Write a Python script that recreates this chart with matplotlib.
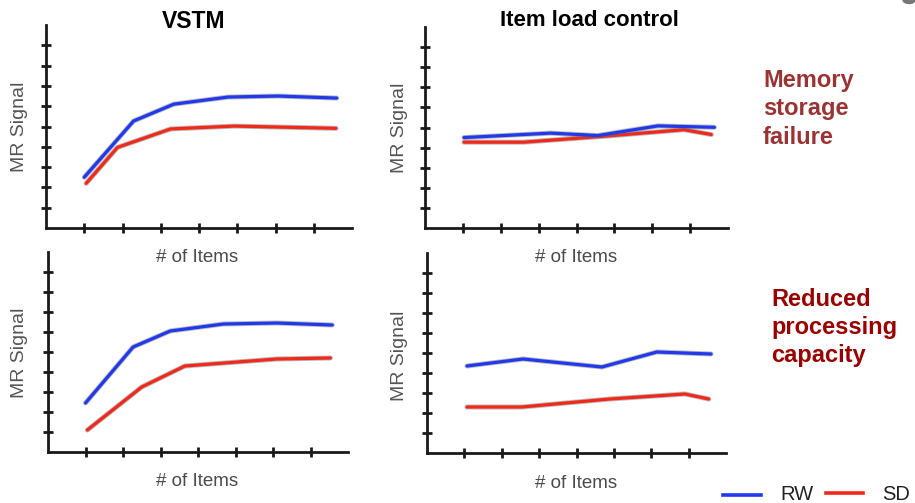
import matplotlib
matplotlib.use("Agg")
import matplotlib.pyplot as plt
import matplotlib.patheffects as pe
from matplotlib.lines import Line2D
from matplotlib.patches import Ellipse

plt.rcParams['font.family'] = ['Liberation Sans', 'DejaVu Sans']

# ---- data (arbitrary units) ----
vstm_mem_rw_x = [1.0, 2.29, 3.34, 4.76, 6.07, 7.6]
vstm_mem_rw_y = [2.5, 5.27, 6.1, 6.45, 6.5, 6.4]
vstm_mem_sd_x = [1.05, 1.87, 3.26, 4.92, 7.58]
vstm_mem_sd_y = [2.2, 3.97, 4.88, 5.02, 4.91]

ctrl_mem_rw_x = [1.03, 3.32, 4.56, 6.15, 7.64]
ctrl_mem_rw_y = [4.5, 4.72, 4.6, 5.08, 5.01]
ctrl_mem_sd_x = [1.03, 2.6, 4.64, 6.84, 7.56]
ctrl_mem_sd_y = [4.27, 4.27, 4.55, 4.89, 4.65]

vstm_cap_rw_x = [1.0, 2.27, 3.26, 4.68, 6.1, 7.58]
vstm_cap_rw_y = [2.45, 5.25, 6.05, 6.4, 6.45, 6.35]
vstm_cap_sd_x = [1.05, 2.5, 3.65, 6.1, 7.53]
vstm_cap_sd_y = [1.1, 3.25, 4.3, 4.65, 4.7]

ctrl_cap_rw_x = [1.07, 2.57, 4.68, 6.15, 7.6]
ctrl_cap_rw_y = [4.35, 4.7, 4.3, 5.05, 4.95]
ctrl_cap_sd_x = [1.07, 2.54, 4.89, 6.9, 7.54]
ctrl_cap_sd_y = [2.3, 2.3, 2.7, 2.95, 2.7]

x_ticks = [1, 2, 3, 4, 5, 6, 7]
y_ticks = [1, 2, 3, 4, 5, 6, 7, 8, 9]

titles = ["VSTM", "Item load control"]
x_label = "# of Items"
y_label = "MR Signal"
row_labels = ["Memory\nstorage\nfailure", "Reduced\nprocessing\ncapacity"]
series_names = ["RW", "SD"]

# ---- style ----
W, H = 915, 503
BLUE = '#2038ee'
RED = '#f2281a'

fig = plt.figure(figsize=(W / 100, H / 100), dpi=100)
fig.patch.set_facecolor('white')


def px_axes(left, right, bottom, top):
    return fig.add_axes([left / W, 1 - bottom / H, (right - left) / W, (bottom - top) / H])


def fx(x):
    return x / W


def fy(y):
    return 1 - y / H


def style(ax):
    ax.set_xlim(0, 8)
    ax.set_ylim(0, 10)
    for s in ['top', 'right']:
        ax.spines[s].set_visible(False)
    for s in ['left', 'bottom']:
        ax.spines[s].set_linewidth(2.0)
        ax.spines[s].set_color('#1a1a1a')
    ax.set_xticks(x_ticks)
    ax.set_yticks(y_ticks)
    ax.tick_params(direction='inout', length=7, width=2.0, color='#1a1a1a',
                   labelbottom=False, labelleft=False)
    ax.set_facecolor('none')


shadow = [pe.Stroke(linewidth=3.6, foreground='#666666', alpha=0.45), pe.Normal()]


def draw(ax, rx, ry, sx, sy):
    ax.plot(sx, sy, color=RED, lw=2.3, solid_capstyle='round', path_effects=shadow)
    ax.plot(rx, ry, color=BLUE, lw=2.3, solid_capstyle='round', path_effects=shadow)


ax1 = px_axes(46, 352, 228, 25)
ax2 = px_axes(425, 728, 228, 27)
ax3 = px_axes(48, 348, 452, 252)
ax4 = px_axes(427, 726, 453, 253)
for a in (ax1, ax2, ax3, ax4):
    style(a)

draw(ax1, vstm_mem_rw_x, vstm_mem_rw_y, vstm_mem_sd_x, vstm_mem_sd_y)
draw(ax2, ctrl_mem_rw_x, ctrl_mem_rw_y, ctrl_mem_sd_x, ctrl_mem_sd_y)
draw(ax3, vstm_cap_rw_x, vstm_cap_rw_y, vstm_cap_sd_x, vstm_cap_sd_y)
draw(ax4, ctrl_cap_rw_x, ctrl_cap_rw_y, ctrl_cap_sd_x, ctrl_cap_sd_y)

# titles
fig.text(fx(194), fy(21), titles[0], ha='center', va='center', fontsize=16.5,
         fontweight='bold', color='black')
fig.text(fx(589), fy(21), titles[1], ha='center', va='center', fontsize=16,
         fontweight='bold', color='black')

# y labels
for (x, y) in [(20, 127), (399, 128), (20, 353), (400, 356)]:
    fig.text(fx(x), fy(y), y_label, ha='center', va='center', rotation=90,
             fontsize=14, color='#555555')

# x labels
for (x, y) in [(197, 258), (576, 258), (197, 481), (576, 483)]:
    fig.text(fx(x), fy(y), x_label, ha='center', va='center', fontsize=13.5,
             color='#4a4a4a')

# row labels
fig.text(fx(763), fy(69), row_labels[0], ha='left', va='top', fontsize=17,
         fontweight='bold', color='#9a3434', linespacing=1.3)
fig.text(fx(771), fy(288), row_labels[1], ha='left', va='top', fontsize=17,
         fontweight='bold', color='#990000', linespacing=1.27)

# legend
fig.add_artist(Line2D([fx(723), fx(761)], [fy(495), fy(495)], color=BLUE, lw=2.6))
fig.text(fx(780), fy(494), series_names[0], ha='left', va='center', fontsize=14.5,
         color='#222222')
fig.add_artist(Line2D([fx(826), fx(863)], [fy(493), fy(493)], color=RED, lw=2.6))
fig.text(fx(882), fy(494), series_names[1], ha='left', va='center', fontsize=14.5,
         color='#222222')

# small gray shape at top-right corner
fig.add_artist(Ellipse((fx(909), fy(0)), 12 / W, 7 / H, color='#777777'))

fig.savefig('out.png', dpi=100, facecolor='white')
